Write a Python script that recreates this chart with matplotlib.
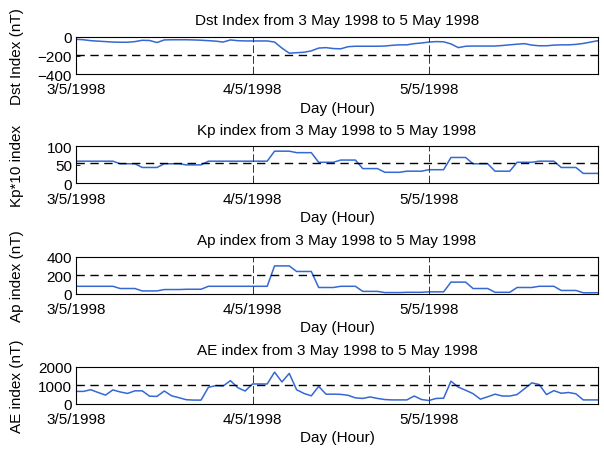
import numpy as np
import matplotlib
matplotlib.use("Agg")
import matplotlib.pyplot as plt

plt.rcParams['font.family'] = ['Liberation Sans', 'DejaVu Sans']
plt.rcParams['font.size'] = 11

hours = list(range(72))
day_ticks = [0, 24, 48]
day_labels = ['3/5/1998', '4/5/1998', '5/5/1998']

dst = [-25, -30, -40, -45, -50, -55, -57, -57, -50, -36, -38, -60,
       -32, -30, -30, -30, -32, -35, -40, -45, -55, -32, -40, -43,
       -43, -43, -43, -55, -120, -175, -170, -165, -150, -120, -115, -125,
       -128, -105, -100, -100, -100, -100, -98, -90, -85, -85, -72, -65,
       -55, -50, -52, -75, -115, -100, -98, -98, -98, -98, -92, -85,
       -78, -72, -88, -95, -95, -88, -85, -85, -80, -70, -55, -40]

kp_blocks = [60, 60, 53, 43, 53, 50, 60, 60, 60, 87, 83, 57,
             63, 40, 30, 33, 37, 70, 53, 33, 57, 60, 43, 27]
ap_blocks = [80, 80, 56, 30, 45, 48, 80, 80, 80, 300, 240, 67,
             80, 25, 12, 15, 20, 125, 56, 15, 67, 80, 35, 10]
kp = [v for v in kp_blocks for _ in range(3)]
ap = [v for v in ap_blocks for _ in range(3)]

ae = [680, 680, 770, 620, 480, 760, 650, 570, 710, 710, 420, 410,
      700, 440, 340, 230, 210, 210, 900, 990, 970, 1260, 880, 700,
      1080, 1080, 1080, 1720, 1190, 1650, 770, 570, 440, 950, 530, 530,
      520, 470, 330, 300, 380, 300, 240, 220, 220, 220, 430, 240,
      190, 300, 310, 1230, 910, 740, 560, 260, 390, 530, 430, 430,
      510, 820, 1140, 1050, 510, 720, 580, 620, 550, 220, 220, 220]

panels = [
    ("Dst Index from 3 May 1998 to 5 May 1998", "Dst Index (nT)", dst, (-400, 0), [-400, -200, 0], -195),
    ("Kp index from 3 May 1998 to 5 May 1998", "Kp*10 index", kp, (0, 100), [0, 50, 100], 55),
    ("Ap index from 3 May 1998 to 5 May 1998", "Ap index (nT)", ap, (0, 400), [0, 200, 400], 205),
    ("AE index from 3 May 1998 to 5 May 1998", "AE index (nT)", ae, (0, 2000), [0, 1000, 2000], 1030),
]

fig = plt.figure(figsize=(6.04, 4.52), dpi=100)
bottoms = [0.834, 0.592, 0.348, 0.104]
left, width, height = 0.126, 0.864, 0.082

for (title, ylab, vals, ylim, yt, thr), b in zip(panels, bottoms):
    ax = fig.add_axes([left, b, width, height])
    ax.plot(hours, vals, color='#3568d4', lw=1.1)
    ax.axhline(thr, color='black', lw=1.0, ls=(0, (6, 4)))
    for d in day_ticks[1:]:
        ax.axvline(d, color='#333333', lw=0.7, ls=(0, (8, 3)))
    ax.set_xlim(0, 71)
    ax.set_ylim(*ylim)
    ax.set_yticks(yt)
    ax.set_xticks(day_ticks)
    ax.set_xticklabels(day_labels)
    ax.tick_params(direction='in', length=3, width=0.6)
    ax.tick_params(axis='y', pad=3)
    ax.tick_params(axis='x', pad=6)
    ax.set_title(title, pad=9, fontsize=11)
    ax.set_xlabel('Day (Hour)', labelpad=3)
    ax.set_ylabel(ylab)
    ax.yaxis.set_label_coords(-0.10, 0.5)
    for s in ax.spines.values():
        s.set_linewidth(0.8)

fig.savefig('out.png', dpi=100)
